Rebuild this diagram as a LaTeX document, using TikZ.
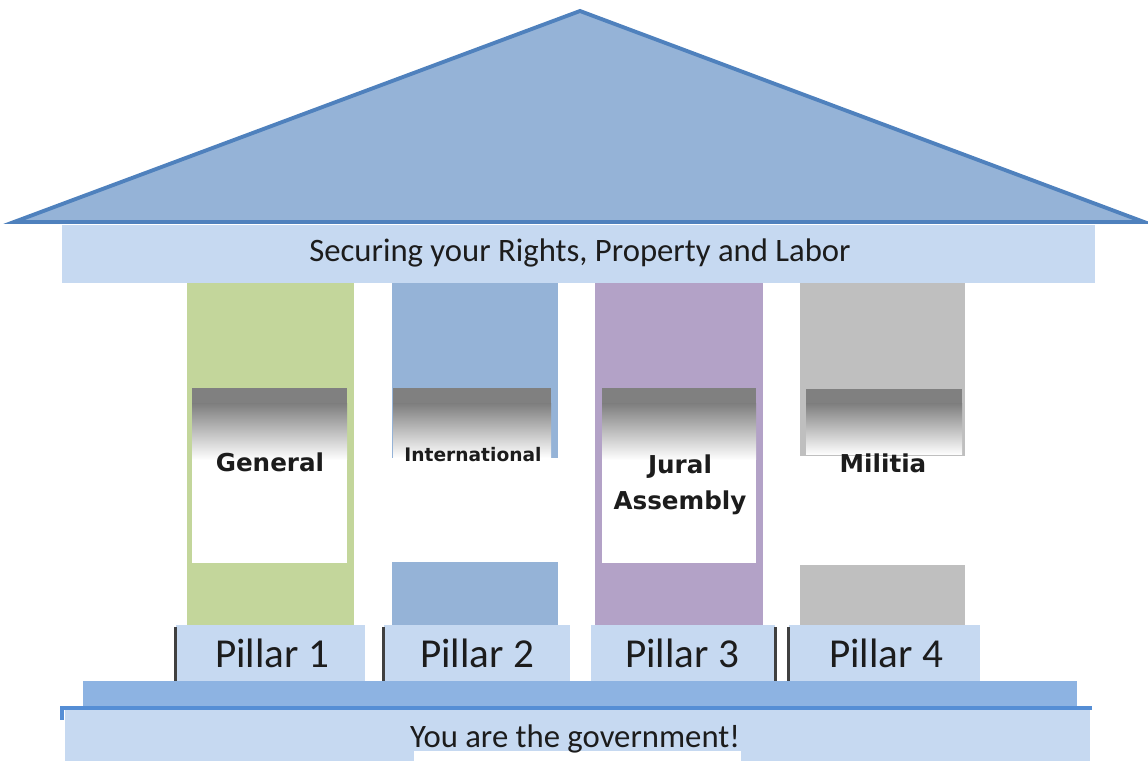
\documentclass[tikz,border=0pt]{standalone}
\usepackage{fontspec}
\setmainfont{Carlito}
\newfontfamily\labelfont{DejaVu Sans}
\usetikzlibrary{positioning}
\definecolor{roof-blue}{HTML}{95B3D7}
\definecolor{edge-blue}{HTML}{4F81BD}
\definecolor{pale-blue}{HTML}{C6D9F1}
\definecolor{step-blue}{HTML}{8DB3E2}
\definecolor{line-blue}{HTML}{558ED5}
\definecolor{green-col}{HTML}{C3D69B}
\definecolor{purple-col}{HTML}{B3A2C7}
\definecolor{gray-col}{HTML}{BFBFBF}
\definecolor{ink}{HTML}{1C1C1C}

\begin{document}
\begin{tikzpicture}[x=0.01cm, y=-0.01cm,
    roof/.style={draw=edge-blue, line width=1.1pt, fill=roof-blue,
      line join=miter},
    fade/.style={top color=black!50, bottom color=white},
    tab/.style={fill=pale-blue, minimum height=0.6cm, inner sep=0pt},
    tabtext/.style={text=ink, inner sep=0pt, anchor=base,
      font=\fontsize{11.7}{13}\selectfont},
    pillarlabel/.style={text=ink, inner sep=0pt, align=center,
      font=\labelfont\bfseries\fontsize{7}{10.4}\selectfont},
    edge/.style={draw=black!75, line width=0.8pt}]

  \useasboundingbox (0,0) rectangle (1148,761);

  % roof and beam
  \draw[roof] (14,222) -- (580,11) -- (1144,222) -- cycle;
  \fill[pale-blue] (62,225) rectangle (1095,283);
  \node[text=ink, inner sep=0pt, anchor=base,
    font=\fontsize{9.3}{11}\selectfont] (motto) at (580,262)
    {Securing your Rights, Property and Labor};

  % pillar 1
  \fill[green-col] (187,283) rectangle (354,628);
  \fill[white] (192,388) rectangle (347,563);
  \fill[black!50] (192,388) rectangle (347,405);
  \shade[fade] (192,404) rectangle (347,460);
  \node[pillarlabel, anchor=base] (general) at (270,472) {General};

  % pillar 2
  \fill[roof-blue] (392,283) rectangle (558,458);
  \fill[black!50] (393,388) rectangle (551,405);
  \shade[fade] (393,404) rectangle (551,458);
  \fill[roof-blue] (392,562) rectangle (558,628);
  \node[pillarlabel, anchor=base, font=\labelfont\bfseries\fontsize{5.3}{7}\selectfont]
    (intl) at (473,462) {International};

  % pillar 3
  \fill[purple-col] (595,283) rectangle (763,628);
  \fill[white] (602,388) rectangle (756,563);
  \fill[black!50] (602,388) rectangle (756,405);
  \shade[fade] (602,404) rectangle (756,460);
  \node[pillarlabel] (jural) at (680,485) {Jural\\Assembly};

  % pillar 4
  \fill[gray-col] (800,283) rectangle (965,456);
  \fill[black!50] (806,389) rectangle (962,405);
  \shade[fade] (806,404) rectangle (962,455);
  \fill[gray-col] (800,565) rectangle (965,628);
  \node[pillarlabel, anchor=base] (militia) at (883,473) {Militia};

  % pillar tabs
  \node[tab, minimum width=1.89cm] (tab1) at (270.5,655) {};
  \node[tab, minimum width=1.86cm] (tab2) at (477,655) {};
  \node[tab, minimum width=1.84cm] (tab3) at (683,655) {};
  \node[tab, minimum width=1.91cm] (tab4) at (884.5,655) {};
  \draw[edge] ([yshift=-0.03cm]tab1.north west) -- ([yshift=0.03cm]tab1.south west);
  \draw[edge] ([yshift=-0.03cm]tab2.north west) -- ([yshift=0.03cm]tab2.south west);
  \draw[edge] ([yshift=-0.03cm]tab3.north east) -- ([yshift=0.03cm]tab3.south east);
  \draw[edge] ([yshift=-0.03cm]tab4.north west) -- ([yshift=0.03cm]tab4.south west);
  \node[tabtext] (p1) at (272,668) {Pillar 1};
  \node[tabtext] (p2) at (477,668) {Pillar 2};
  \node[tabtext] (p3) at (682,668) {Pillar 3};
  \node[tabtext] (p4) at (886,668) {Pillar 4};

  % base
  \fill[step-blue] (83,681) rectangle (1077,708);
  \fill[pale-blue] (65,708) rectangle (1090,761);
  \fill[white] (414,751) rectangle (741,761);
  \draw[line-blue, line width=1.1pt] (62,720) -- (62,708) -- (1092,708);
  \node[text=ink, inner sep=0pt, anchor=base,
    font=\fontsize{9.3}{11}\selectfont] (ground) at (575,748)
    {You are the government!};
\end{tikzpicture}
\end{document}
